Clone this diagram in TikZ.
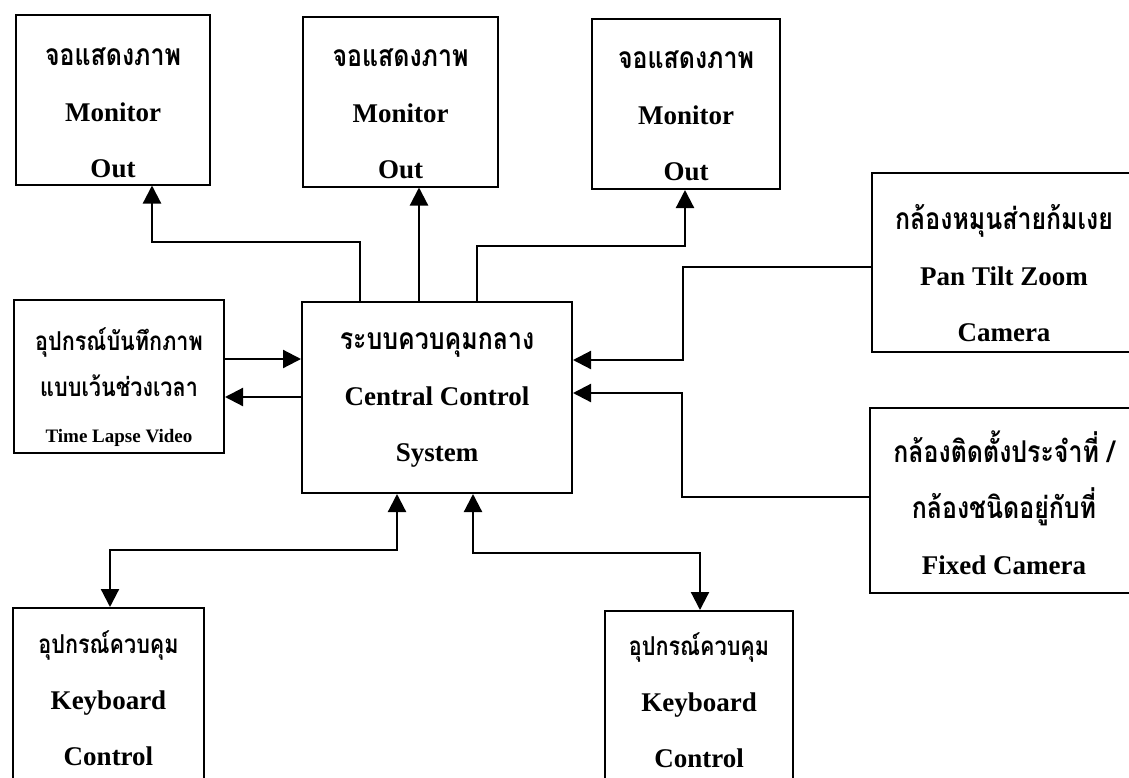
\documentclass[tikz,border=0pt]{standalone}
\usepackage{fontspec}
\setmainfont{Liberation Serif}
\newfontfamily\thai[Script=Thai,FakeStretch=0.83]{Loma}
\usetikzlibrary{arrows.meta}

\newcommand{\thbig}[1]{{\thai\fontsize{15}{28}\selectfont #1}}
\newcommand{\thsmall}[1]{{\thai\fontsize{13}{28}\selectfont #1}}

\tikzset{
  box/.style={draw, line width=1pt, inner sep=0pt},
  txt/.style={align=center, inner sep=0pt, font=\fontsize{13.5}{28}\selectfont\bfseries},
  arr/.style={line width=1.1pt, -{Triangle[length=9pt,width=9pt]}},
  darr/.style={line width=1.1pt, {Triangle[length=9pt,width=9pt]}-{Triangle[length=9pt,width=9pt]}},
}

\begin{document}
\begin{tikzpicture}[x=0.5pt,y=-0.5pt]
  \useasboundingbox (0,0) rectangle (1129,777);
  \clip (0,0) rectangle (1129,777);
  \fill[white] (0,0) rectangle (1129,777);

  \foreach \i/\x/\y/\w/\ty in {1/113/99.5/97/112.5, 2/400.5/101.5/97.5/114, 3/686/104/94/116}{
    \node[box, minimum width=\w pt, minimum height=85pt] (mon\i) at (\x,\y) {};
    \node[txt] (mon\i txt) at (\x,\ty) {\thbig{จอแสดงภาพ}\\Monitor\\Out};
  }
  \node[box, minimum width=105pt, minimum height=76.5pt] (tl) at (119,376.5) {};
  \node[txt, font=\fontsize{13.5}{23}\selectfont\bfseries] (tltxt) at (119,387)
    {\thsmall{อุปกรณ์บันทึกภาพ}\\\thsmall{แบบเว้นช่วงเวลา}\\{\fontsize{9.5}{12}\selectfont Time Lapse Video}};
  \node[box, minimum width=135pt, minimum height=95.5pt] (cen) at (437,397.5) {};
  \node[txt] (centxt) at (437,399.5) {\thbig{ระบบควบคุมกลาง}\\Central Control\\System};
  \node[box, minimum width=132pt, minimum height=89.5pt] (ptz) at (1004,262.5) {};
  \node[txt] (ptztxt) at (1004,273) {\thbig{กล้องหมุนส่ายก้มเงย}\\Pan Tilt Zoom\\Camera};
  \node[box, minimum width=134pt, minimum height=92.5pt] (fix) at (1004,500.5) {};
  \node[txt] (fixtxt) at (1004,503) {\thbig{กล้องติดตั้งประจำที่ /}\\\thbig{กล้องชนิดอยู่กับที่}\\Fixed Camera};
  \node[box, minimum width=95.5pt, minimum height=91pt] (kb1) at (108.5,699) {};
  \node[txt] (kb1txt) at (108.5,698) {\thsmall{อุปกรณ์ควบคุม}\\Keyboard\\Control};
  \node[box, minimum width=94pt, minimum height=91pt] (kb2) at (699,702) {};
  \node[txt] (kb2txt) at (699,700) {\thsmall{อุปกรณ์ควบคุม}\\Keyboard\\Control};

  \coordinate (k1) at (360,242); \coordinate (b1) at (152,242);
  \coordinate (k2) at (419,240);
  \coordinate (k3) at (477,246); \coordinate (b3) at (685,246);
  \coordinate (h1) at (260,359); \coordinate (h2) at (260,397);
  \coordinate (p1) at (683,267); \coordinate (p2) at (683,360);
  \coordinate (f1) at (682,497); \coordinate (f2) at (682,393);
  \coordinate (k4) at (397,550); \coordinate (b4) at (110,550);
  \coordinate (k5) at (473,553); \coordinate (b5) at (700,553);

  \draw[arr] (cen.north -| k1) -- (k1) -- (b1) -- (mon1.south -| b1);
  \draw[arr] (cen.north -| k2) -- (mon2.south -| k2);
  \draw[arr] (cen.north -| k3) -- (k3) -- (b3) -- (mon3.south -| b3);
  \draw[arr] (tl.east |- h1) -- (cen.west |- h1);
  \draw[arr] (cen.west |- h2) -- (tl.east |- h2);
  \draw[arr] (ptz.west |- p1) -- (p1) -- (p2) -- (cen.east |- p2);
  \draw[arr] (fix.west |- f1) -- (f1) -- (f2) -- (cen.east |- f2);
  \draw[darr] (cen.south -| k4) -- (k4) -- (b4) -- (kb1.north -| b4);
  \draw[darr] (cen.south -| k5) -- (k5) -- (b5) -- (kb2.north -| b5);
\end{tikzpicture}
\end{document}
